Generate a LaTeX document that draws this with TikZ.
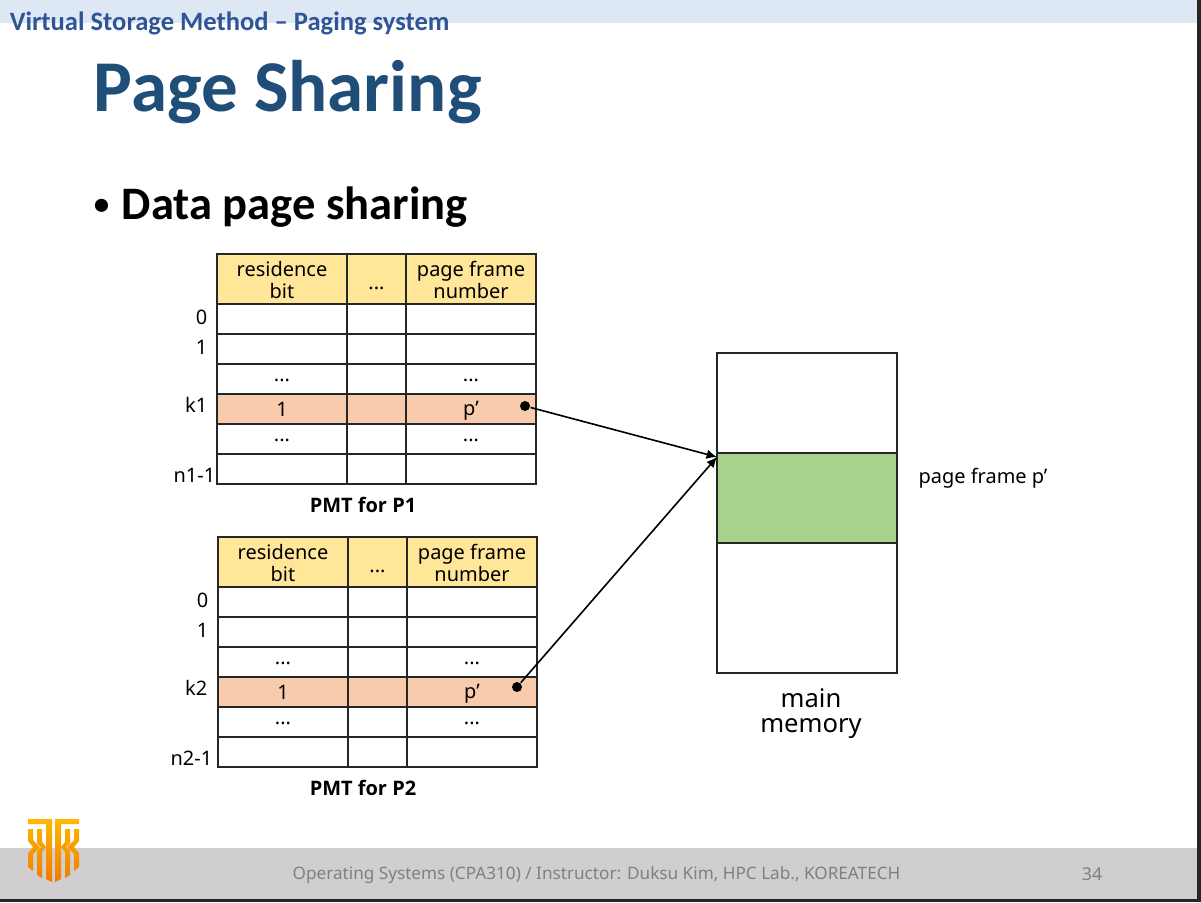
\documentclass[tikz,border=0pt]{standalone}
\usepackage{fontspec}
\setmainfont{Noto Sans}
\newfontfamily\headfont{Carlito}
\newfontfamily\capfont{Open Sans}
\usetikzlibrary{arrows.meta}
\definecolor{bandblue}{HTML}{DEE8F4}
\definecolor{sidetext}{HTML}{2F5597}
\definecolor{titleblue}{HTML}{1F4E79}
\definecolor{headyellow}{HTML}{FFE699}
\definecolor{rowpeach}{HTML}{F8CBAD}
\definecolor{framegreen}{HTML}{A9D18E}
\definecolor{footgray}{HTML}{D0CECE}
\definecolor{foottext}{HTML}{808080}
\definecolor{edgedark}{HTML}{262626}
\definecolor{logotop}{HTML}{FFB800}
\definecolor{logobottom}{HTML}{EF7A00}
\newcommand\px{217}
\newcommand\py{254}
\newcommand\qx{218}
\newcommand\qy{537}
\newcommand\lowtext[2]{\raisebox{-#1}[\height][\depth]{#2}}
\newcommand\logostrands{(28,819) -- (52,819) -- (52,882) -- (46,879) -- (46,824) -- (28,824) -- cycle
  (28,829) -- (33,829) -- (33,840) -- (40,847) -- (33,854) -- (33,871) -- (28,867) -- (28,853) -- (33,847) -- (28,841) -- cycle
  (37,829) -- (42,829) -- (42,842) -- (46,847) -- (42,852) -- (42,878) -- (37,875) -- (37,851) -- (41,847) -- (37,843) -- cycle}

\begin{document}
\begin{tikzpicture}[x=0.025cm,y=-0.025cm,line width=1.15pt,
    cell/.style={draw=black!85,rectangle,inner sep=0pt,outer sep=0pt,font=\fontsize{14.2}{16}\selectfont,align=center},
    colA/.style={cell,minimum width=3.25cm},
    colB/.style={cell,minimum width=1.475cm},
    colC/.style={cell,minimum width=3.25cm},
    head/.style={minimum height=1.25cm,fill=headyellow},
    row/.style={minimum height=0.75cm,fill=white},
    hit/.style={minimum height=0.75cm,fill=rowpeach},
    index/.style={anchor=east,inner sep=0pt,font=\fontsize{14.2}{16}\selectfont},
    caption/.style={inner sep=0pt,font=\capfont\fontsize{14.2}{16}\selectfont\bfseries},
    dot/.style={circle,fill=black,inner sep=0pt,minimum size=0.25cm},
    block/.style={draw=black!85,rectangle,inner sep=0pt,outer sep=0pt,minimum width=4.5cm}]

    % Slide
    \useasboundingbox (0,0) rectangle (1201,902);
    \fill[white] (0,0) rectangle (1201,902);
    \fill[bandblue] (0,0) rectangle (1201,23);
    \fill[footgray] (0,848) rectangle (1201,899);
    \fill[edgedark] (0,899) rectangle (1201,902);
    \fill[edgedark] (1197,0) rectangle (1201,902);

    \node at (9,30) [anchor=base west, inner sep=0pt, text=sidetext, font=\headfont\fontsize{18.9}{20}\selectfont\bfseries] (topic) {Virtual Storage Method – Paging system};
    \node at (93,111) [anchor=base west, inner sep=0pt, text=titleblue, font=\headfont\fontsize{51.9}{56}\selectfont\bfseries] (title) {Page Sharing};
    \node at (93,219) [anchor=base west, inner sep=0pt, font=\headfont\fontsize{33.1}{38}\selectfont\bfseries] (bullet) {\raisebox{0.1em}{\fontsize{22}{24}\selectfont •}\hspace{0.27em}Data page sharing};

    % Logo
    \shade[top color=logotop, bottom color=logobottom] \logostrands;
    \begin{scope}[xshift=2.675cm,xscale=-1]
        \shade[top color=logotop, bottom color=logobottom] \logostrands;
    \end{scope}

    % PMT for P1
    \node at (\px + 65, \py + 25) [colA, head] (ahead) {\lowtext{0.7pt}{residence}\\\lowtext{0.7pt}{bit}};
    \node at (\px + 159.5, \py + 25) [colB, head] (bhead) {\lowtext{6.4pt}{...}};
    \node at (\px + 254, \py + 25) [colC, head] (chead) {\lowtext{0.7pt}{page frame}\\\lowtext{0.7pt}{number}};

    \node at (\px + 65, \py + 65) [colA, row] (a0) {};
    \node at (\px + 159.5, \py + 65) [colB, row] (b0) {};
    \node at (\px + 254, \py + 65) [colC, row] (c0) {};
    \node at (\px + 65, \py + 95) [colA, row] (a1) {};
    \node at (\px + 159.5, \py + 95) [colB, row] (b1) {};
    \node at (\px + 254, \py + 95) [colC, row] (c1) {};
    \node at (\px + 65, \py + 125) [colA, row] (a2) {\lowtext{1pt}{...}};
    \node at (\px + 159.5, \py + 125) [colB, row] (b2) {};
    \node at (\px + 254, \py + 125) [colC, row] (c2) {\lowtext{1pt}{...}};
    \node at (\px + 65, \py + 155) [colA, hit] (a3) {1};
    \node at (\px + 159.5, \py + 155) [colB, hit] (b3) {};
    \node at (\px + 254, \py + 155) [colC, hit] (c3) {\lowtext{1.4pt}{p’}};
    \node at (\px + 65, \py + 185) [colA, row] (a4) {\lowtext{1pt}{...}};
    \node at (\px + 159.5, \py + 185) [colB, row] (b4) {};
    \node at (\px + 254, \py + 185) [colC, row] (c4) {\lowtext{1pt}{...}};
    \node at (\px + 65, \py + 215) [colA, row] (a5) {};
    \node at (\px + 159.5, \py + 215) [colB, row] (b5) {};
    \node at (\px + 254, \py + 215) [colC, row] (c5) {};

    \node at (\px - 9, \py + 63) [index] (i0) {0};
    \node at (\px - 9, \py + 93) [index] (i1) {1};
    \node at (\px - 9, \py + 151) [index] (ik) {k1};
    \node at (\px - 1, \py + 221) [index] (in) {n1-1};
    \node at (\px + 146, \py + 251) [caption] (pmta) {PMT for P1};
    \node at (\px + 308, \py + 152) [dot] (da) {};

    % PMT for P2
    \node at (\qx + 65, \qy + 25) [colA, head] (dhead) {\lowtext{0.7pt}{residence}\\\lowtext{0.7pt}{bit}};
    \node at (\qx + 159.5, \qy + 25) [colB, head] (ehead) {\lowtext{6.4pt}{...}};
    \node at (\qx + 254, \qy + 25) [colC, head] (fhead) {\lowtext{0.7pt}{page frame}\\\lowtext{0.7pt}{number}};

    \node at (\qx + 65, \qy + 65) [colA, row] (d0) {};
    \node at (\qx + 159.5, \qy + 65) [colB, row] (e0) {};
    \node at (\qx + 254, \qy + 65) [colC, row] (f0) {};
    \node at (\qx + 65, \qy + 95) [colA, row] (d1) {};
    \node at (\qx + 159.5, \qy + 95) [colB, row] (e1) {};
    \node at (\qx + 254, \qy + 95) [colC, row] (f1) {};
    \node at (\qx + 65, \qy + 125) [colA, row] (d2) {\lowtext{1pt}{...}};
    \node at (\qx + 159.5, \qy + 125) [colB, row] (e2) {};
    \node at (\qx + 254, \qy + 125) [colC, row] (f2) {\lowtext{1pt}{...}};
    \node at (\qx + 65, \qy + 155) [colA, hit] (d3) {1};
    \node at (\qx + 159.5, \qy + 155) [colB, hit] (e3) {};
    \node at (\qx + 254, \qy + 155) [colC, hit] (f3) {\lowtext{1.4pt}{p’}};
    \node at (\qx + 65, \qy + 185) [colA, row] (d4) {\lowtext{1pt}{...}};
    \node at (\qx + 159.5, \qy + 185) [colB, row] (e4) {};
    \node at (\qx + 254, \qy + 185) [colC, row] (f4) {\lowtext{1pt}{...}};
    \node at (\qx + 65, \qy + 215) [colA, row] (d5) {};
    \node at (\qx + 159.5, \qy + 215) [colB, row] (e5) {};
    \node at (\qx + 254, \qy + 215) [colC, row] (f5) {};

    \node at (\qx - 9, \qy + 63) [index] (j0) {0};
    \node at (\qx - 9, \qy + 93) [index] (j1) {1};
    \node at (\qx - 10, \qy + 151) [index] (jk) {k2};
    \node at (\qx - 5, \qy + 221) [index] (jn) {n2-1};
    \node at (\qx + 145, \qy + 251) [caption] (pmtb) {PMT for P2};
    \node at (\qx + 299, \qy + 150) [dot] (db) {};

    % Main memory
    \node at (807, 403) [block, minimum height=2.5cm, fill=white] (upper) {};
    \node at (807, 498) [block, minimum height=2.25cm, fill=framegreen] (frame) {};
    \node at (807, 608) [block, minimum height=3.25cm, fill=white] (lower) {};
    \node at (983, 478.5) [inner sep=0pt, font=\fontsize{14.2}{16}\selectfont] (plabel) {page frame p’};
    \node at (811, 714) [inner sep=0pt, align=center, font=\fontsize{18.2}{17.8}\selectfont] (mem) {main\\memory};
    \coordinate (entry) at (717, 457);

    \draw[-{Latex[length=2.6mm,width=2.4mm]}] (da) -- (entry);
    \draw[-{Latex[length=2.6mm,width=2.4mm]}] (db) -- (entry);

    % Footer
    \node at (596.5, 875.5) [inner sep=0pt, text=foottext, font=\fontsize{12.2}{14}\selectfont] (credit) {Operating Systems (CPA310) / Instructor: Duksu Kim, HPC Lab., KOREATECH};
    \node at (1092, 874.5) [inner sep=0pt, text=foottext, font=\fontsize{12.6}{14}\selectfont] (pageno) {34};

\end{tikzpicture}
\end{document}
